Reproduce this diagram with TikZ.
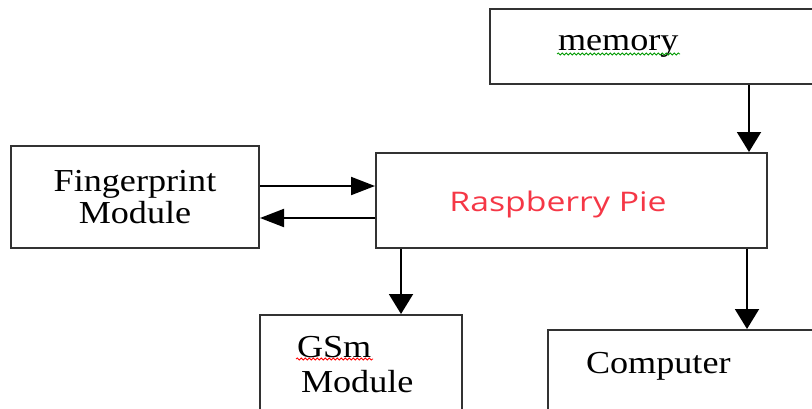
\documentclass[tikz,border=0pt]{standalone}
\usepackage{fontspec}
\usepackage{xcolor}
\usepackage{tikz}
\usetikzlibrary{arrows.meta,decorations.pathmorphing}
\newfontfamily\docfont[FakeStretch=1.13]{Liberation Serif}
\newfontfamily\rpifont[FakeStretch=1.25]{Open Sans}
\definecolor{rpired}{RGB}{245,55,70}
\definecolor{edgegray}{RGB}{50,50,50}
\tikzstyle{box}=[draw=edgegray,line width=2pt,inner sep=0pt,font=\docfont\fontsize{32}{35}\selectfont]
\tikzstyle{varr}=[line width=2pt,-{Triangle[length=20pt,width=24pt]}]
\tikzstyle{harr}=[line width=2pt,-{Triangle[length=24pt,width=18pt]}]
\tikzstyle{squig}=[decorate,decoration={snake,amplitude=1pt,segment length=4pt},line width=0.8pt]

\begin{document}
\begin{tikzpicture}[x=1pt,y=-1pt]
  \clip (0,0) rectangle (812,408);
  % blocks
  \node[box,anchor=north west,minimum height=75pt,text width=300pt,inner xsep=68pt,align=left] (mem) at (489,8) {memory};
  \node[box,minimum width=248pt,minimum height=102pt,align=center,font=\docfont\fontsize{32}{31.6}\selectfont] (fp) at (135,197) {Fingerprint\\Module};
  \node[box,minimum width=391pt,minimum height=95pt,text=rpired,text height=29pt,font=\rpifont\fontsize{27}{32}\selectfont] (rpi) at (571.5,200.5) {Raspberry Pie\kern27pt};
  \node[box,anchor=north west,text width=128pt,inner xsep=37pt,inner ysep=21pt,align=left] (gsm) at (259,314) {\mbox{GSm}\\\hspace*{4pt}\mbox{Module}};
  \node[box,anchor=north west,text width=300pt,inner xsep=38pt,inner ysep=22pt,text depth=20pt,align=left] (comp) at (547,329) {Computer};
  % spelling marks
  \draw[squig,green!60!black] (557,54) -- (680,54);
  \draw[squig,red] (296,359) -- (373,359);
  % links
  \coordinate (mtip) at ([xshift=-19pt]rpi.north east);
  \draw[varr] (mtip |- mem.south) -- (mtip);
  \coordinate (ftop) at ([yshift=11pt]fp.east);
  \draw[harr] (ftop) -- (ftop -| rpi.west);
  \coordinate (fbot) at ([yshift=-21pt]fp.east);
  \draw[harr] (fbot -| rpi.west) -- (fbot);
  \coordinate (gtop) at ([xshift=26pt]rpi.south west);
  \draw[varr] (gtop) -- (gtop |- gsm.north);
  \coordinate (ctop) at ([xshift=-21pt]rpi.south east);
  \draw[varr] (ctop) -- (ctop |- comp.north);
\end{tikzpicture}
\end{document}
